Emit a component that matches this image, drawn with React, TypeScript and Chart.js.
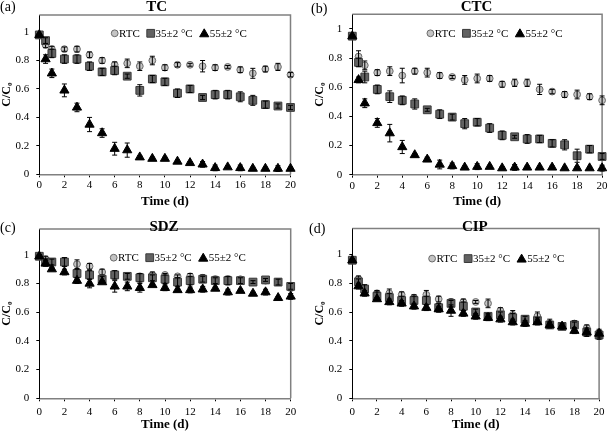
import React, { useEffect, useRef } from 'react';
import { Chart, registerables } from 'chart.js';

Chart.register(...registerables);

// ---------- DATA ----------
const days = [0, 0.5, 1, 2, 3, 4, 5, 6, 7, 8, 9, 10, 11, 12, 13, 14, 15, 16, 17, 18, 19, 20];
const seriesLabels = ['RTC', '35±2 °C', '55±2 °C'];
const panelLetters = ['(a)', '(b)', '(c)', '(d)'];
const panelTitles = ['TC', 'CTC', 'SDZ', 'CIP'];
const xAxisTitle = 'Time (d)';
const yAxisTitle = 'C/C₀';
const xTickStep = 2;
const yTickLabels = ['0', '0.2', '0.4', '0.6', '0.8', '1'];

// (a) TC
const tcRTC = [0.98, 0.91, 0.88, 0.88, 0.88, 0.84, 0.80, 0.77, 0.78, 0.76, 0.80, 0.75, 0.77, 0.77, 0.76, 0.75, 0.755, 0.735, 0.71, 0.74, 0.755, 0.70];
const tcRTCErr = [0.01, 0.02, 0.02, 0.015, 0.02, 0.02, 0.02, 0.02, 0.03, 0.03, 0.03, 0.02, 0.015, 0.01, 0.04, 0.02, 0.01, 0.02, 0.035, 0.02, 0.025, 0.015];
const tc35 = [0.98, 0.94, 0.85, 0.81, 0.81, 0.76, 0.72, 0.73, 0.69, 0.59, 0.67, 0.65, 0.57, 0.60, 0.54, 0.56, 0.56, 0.545, 0.52, 0.49, 0.48, 0.47];
const tc35Err = [0.01, 0.02, 0.03, 0.03, 0.03, 0.03, 0.025, 0.03, 0.015, 0.04, 0.025, 0.025, 0.03, 0.025, 0.015, 0.03, 0.03, 0.035, 0.035, 0.025, 0.015, 0.015];
const tc55 = [0.98, 0.81, 0.71, 0.59, 0.47, 0.35, 0.29, 0.18, 0.17, 0.12, 0.11, 0.11, 0.09, 0.08, 0.07, 0.045, 0.05, 0.045, 0.04, 0.04, 0.04, 0.04];
const tc55Err = [0.01, 0.03, 0.03, 0.045, 0.03, 0.05, 0.03, 0.045, 0.05, 0.01, 0.01, 0.01, 0.01, 0.01, 0.02, 0.02, 0.01, 0.02, 0.01, 0.01, 0.02, 0.01];

// (b) CTC
const ctcRTC = [0.95, 0.81, 0.75, 0.70, 0.71, 0.68, 0.71, 0.70, 0.68, 0.67, 0.65, 0.66, 0.66, 0.62, 0.63, 0.63, 0.585, 0.57, 0.55, 0.55, 0.535, 0.51];
const ctcRTCErr = [0.01, 0.04, 0.03, 0.02, 0.03, 0.05, 0.02, 0.03, 0.02, 0.01, 0.03, 0.03, 0.02, 0.02, 0.025, 0.025, 0.035, 0.015, 0.02, 0.03, 0.02, 0.03];
const ctc35 = [0.95, 0.77, 0.67, 0.585, 0.535, 0.51, 0.485, 0.445, 0.415, 0.395, 0.35, 0.36, 0.32, 0.27, 0.26, 0.245, 0.245, 0.215, 0.205, 0.13, 0.175, 0.125];
const ctc35Err = [0.01, 0.03, 0.04, 0.03, 0.04, 0.03, 0.035, 0.01, 0.03, 0.02, 0.035, 0.025, 0.03, 0.03, 0.01, 0.03, 0.025, 0.025, 0.035, 0.045, 0.025, 0.02];
const ctc55 = [0.95, 0.65, 0.49, 0.355, 0.285, 0.19, 0.135, 0.105, 0.07, 0.06, 0.05, 0.055, 0.055, 0.045, 0.05, 0.05, 0.05, 0.05, 0.045, 0.045, 0.045, 0.045];
const ctc55Err = [0.01, 0.02, 0.03, 0.03, 0.06, 0.045, 0.01, 0.015, 0.03, 0.02, 0.01, 0.02, 0.01, 0.01, 0.02, 0.01, 0.01, 0.01, 0.01, 0.01, 0.01, 0.02];

// (c) SDZ
const sdzRTC = [0.99, 0.97, 0.95, 0.95, 0.935, 0.92, 0.88, 0.86, 0.85, 0.85, 0.86, 0.86, 0.85, 0.85, 0.84, 0.83, 0.83, 0.83, 0.81, 0.82, 0.81, 0.77];
const sdzRTCErr = [0.01, 0.02, 0.02, 0.03, 0.03, 0.02, 0.02, 0.02, 0.02, 0.02, 0.02, 0.01, 0.01, 0.02, 0.02, 0.02, 0.02, 0.01, 0.01, 0.01, 0.02, 0.02];
const sdz35 = [0.99, 0.95, 0.95, 0.95, 0.87, 0.86, 0.83, 0.86, 0.85, 0.84, 0.84, 0.83, 0.81, 0.82, 0.83, 0.82, 0.82, 0.82, 0.81, 0.825, 0.81, 0.78];
const sdz35Err = [0.01, 0.02, 0.02, 0.03, 0.03, 0.03, 0.02, 0.03, 0.02, 0.03, 0.02, 0.03, 0.03, 0.03, 0.02, 0.02, 0.03, 0.02, 0.01, 0.01, 0.02, 0.02];
const sdz55 = [0.99, 0.94, 0.90, 0.88, 0.82, 0.80, 0.81, 0.78, 0.78, 0.77, 0.79, 0.77, 0.755, 0.755, 0.76, 0.765, 0.74, 0.75, 0.73, 0.74, 0.70, 0.71];
const sdz55Err = [0.01, 0.02, 0.01, 0.02, 0.02, 0.03, 0.01, 0.04, 0.03, 0.03, 0.01, 0.02, 0.01, 0.02, 0.02, 0.01, 0.02, 0.01, 0.01, 0.02, 0.01, 0.02];

// (d) CIP
const cipRTC = [0.96, 0.83, 0.76, 0.73, 0.73, 0.72, 0.70, 0.72, 0.69, 0.67, 0.67, 0.67, 0.66, 0.61, 0.58, 0.55, 0.57, 0.52, 0.50, 0.52, 0.49, 0.45];
const cipRTCErr = [0.01, 0.02, 0.02, 0.02, 0.03, 0.02, 0.02, 0.03, 0.02, 0.02, 0.02, 0.01, 0.03, 0.02, 0.03, 0.02, 0.03, 0.03, 0.01, 0.02, 0.02, 0.02];
const cip35 = [0.96, 0.81, 0.76, 0.71, 0.70, 0.68, 0.68, 0.68, 0.63, 0.66, 0.64, 0.60, 0.57, 0.58, 0.56, 0.55, 0.54, 0.51, 0.50, 0.51, 0.46, 0.44];
const cip35Err = [0.01, 0.02, 0.03, 0.03, 0.03, 0.03, 0.03, 0.03, 0.03, 0.02, 0.03, 0.02, 0.02, 0.02, 0.03, 0.02, 0.02, 0.02, 0.02, 0.02, 0.03, 0.03];
const cip55 = [0.96, 0.78, 0.73, 0.69, 0.67, 0.66, 0.64, 0.63, 0.62, 0.61, 0.59, 0.57, 0.56, 0.55, 0.53, 0.52, 0.53, 0.51, 0.50, 0.47, 0.46, 0.45];
const cip55Err = [0.01, 0.02, 0.02, 0.01, 0.02, 0.02, 0.02, 0.02, 0.02, 0.04, 0.02, 0.02, 0.02, 0.02, 0.02, 0.02, 0.02, 0.02, 0.01, 0.02, 0.02, 0.03];

const panelSeries = [
  [[tcRTC, tcRTCErr], [tc35, tc35Err], [tc55, tc55Err]],
  [[ctcRTC, ctcRTCErr], [ctc35, ctc35Err], [ctc55, ctc55Err]],
  [[sdzRTC, sdzRTCErr], [sdz35, sdz35Err], [sdz55, sdz55Err]],
  [[cipRTC, cipRTCErr], [cip35, cip35Err], [cip55, cip55Err]],
];

// ---------- STYLE / LAYOUT ----------
const SERIF = '"Liberation Serif", "Times New Roman", Times, serif';

const seriesStyles = [
  { shape: 'circle', radius: 3.4, fill: '#c4c4c4', stroke: '#6a6a6a', order: 2 },
  { shape: 'rect', radius: 5.5, fill: '#626262', stroke: '#3a3a3a', order: 1 },
  { shape: 'triangle', radius: 5.3, fill: '#000000', stroke: '#000000', order: 0 },
];

const panelLayouts = [
  { left: 0, top: 0, width: 304, height: 215, area: { l: 39.3, r: 290.5, t: 15, b: 174.3 }, yMax: 1.12,
    xTickPad: 1.4, xTitlePad: 5.2, yTitlePad: 0.1, label: { x: 0, y: 7.5 }, title: { x: 156.7, y: 7 }, legend: { dx: 72, dy: 18.3 } },
  { left: 304, top: 0, width: 305, height: 215, area: { l: 352.3, r: 603.3, t: 14.3, b: 174.7 }, yMax: 1.1,
    xTickPad: 1.4, xTitlePad: 5.2, yTitlePad: 9, label: { x: 7, y: 9 }, title: { x: 172.5, y: 7 }, legend: { dx: 74.7, dy: 19 } },
  { left: 0, top: 215, width: 304, height: 220, area: { l: 39.3, r: 290.7, t: 229, b: 398.3 }, yMax: 1.18,
    xTickPad: 4.4, xTitlePad: 2.2, yTitlePad: 0.1, label: { x: 0, y: 13 }, title: { x: 164, y: 12.2 }, legend: { dx: 71, dy: 28.7 } },
  { left: 304, top: 215, width: 305, height: 220, area: { l: 352.3, r: 604, t: 228.3, b: 398.3 }, yMax: 1.18,
    xTickPad: 4.4, xTitlePad: 2.2, yTitlePad: 8.3, label: { x: 5, y: 14 }, title: { x: 170.8, y: 12.5 }, legend: { dx: 76.4, dy: 30 } },
];

function drawMarker(ctx: CanvasRenderingContext2D, shape: string, x: number, y: number, r: number, fill: string, stroke: string) {
  ctx.save();
  ctx.beginPath();
  if (shape === 'circle') {
    ctx.arc(x, y, r, 0, Math.PI * 2);
  } else if (shape === 'rect') {
    const s = r * Math.SQRT2;
    ctx.rect(x - s / 2, y - s / 2, s, s);
  } else {
    const w = r * Math.sin((2 * Math.PI) / 3);
    ctx.moveTo(x, y - r);
    ctx.lineTo(x + w, y + r / 2);
    ctx.lineTo(x - w, y + r / 2);
    ctx.closePath();
  }
  ctx.fillStyle = fill;
  ctx.strokeStyle = stroke;
  ctx.lineWidth = 1;
  ctx.fill();
  ctx.stroke();
  ctx.restore();
}

const frameAndBarsPlugin = {
  id: 'frameAndBars',
  beforeDatasetsDraw(chart: any) {
    const { ctx, chartArea } = chart;
    ctx.save();
    ctx.strokeStyle = '#808080';
    ctx.lineWidth = 1.5;
    ctx.beginPath();
    ctx.moveTo(chartArea.left, chartArea.top);
    ctx.lineTo(chartArea.right, chartArea.top);
    ctx.lineTo(chartArea.right, chartArea.bottom);
    ctx.stroke();
    ctx.restore();
  },
  afterDatasetDraw(chart: any, args: any) {
    const ds = chart.data.datasets[args.index];
    const errs: number[] = ds.errors || [];
    const yScale = chart.scales.y;
    const xScale = chart.scales.x;
    const ctx = chart.ctx;
    ctx.save();
    ctx.strokeStyle = '#000';
    ctx.lineWidth = 1;
    ds.data.forEach((p: any, i: number) => {
      const e = errs[i] || 0;
      if (!e) return;
      const px = xScale.getPixelForValue(p.x);
      const y1 = yScale.getPixelForValue(p.y + e);
      const y2 = yScale.getPixelForValue(p.y - e);
      ctx.beginPath();
      ctx.moveTo(px, y1);
      ctx.lineTo(px, y2);
      ctx.moveTo(px - 2.5, y1);
      ctx.lineTo(px + 2.5, y1);
      ctx.moveTo(px - 2.5, y2);
      ctx.lineTo(px + 2.5, y2);
      ctx.stroke();
    });
    ctx.restore();
  },
};

const textPlugin = {
  id: 'panelText',
  afterDraw(chart: any, _args: any, opts: any) {
    const { ctx, chartArea } = chart;
    ctx.save();
    ctx.fillStyle = '#000';
    ctx.textBaseline = 'middle';
    ctx.font = `14px ${SERIF}`;
    ctx.textAlign = 'left';
    ctx.fillText(opts.letter, opts.label.x, opts.label.y);
    ctx.font = `bold 15px ${SERIF}`;
    ctx.textAlign = 'center';
    ctx.fillText(opts.title, opts.titlePos.x, opts.titlePos.y);
    ctx.font = `11px ${SERIF}`;
    ctx.textAlign = 'left';
    let x = chartArea.left + opts.legend.dx;
    const y = chartArea.top + opts.legend.dy;
    chart.data.datasets.forEach((ds: any, i: number) => {
      const st = seriesStyles[i];
      const mw = st.shape === 'circle' ? st.radius * 2 : st.shape === 'rect' ? st.radius * Math.SQRT2 : 2 * st.radius * Math.sin((2 * Math.PI) / 3);
      const cy = st.shape === 'triangle' ? y + st.radius / 4 - 0.5 : y;
      drawMarker(ctx, st.shape, x + mw / 2, cy, st.radius, st.fill, st.stroke);
      ctx.fillStyle = '#000';
      ctx.fillText(ds.label, x + mw + 1, y + 0.5);
      x += mw + 1 + ctx.measureText(ds.label).width + 7;
    });
    ctx.restore();
  },
};

function Panel({ index }: { index: number }) {
  const ref = useRef<HTMLCanvasElement>(null);
  const L = panelLayouts[index];
  useEffect(() => {
    if (!ref.current) return;
    const padTop = L.area.t - L.top;
    const yAxisWidth = L.area.l - L.left;
    const padRight = L.left + L.width - L.area.r;
    const xAxisHeight = L.top + L.height - L.area.b;
    const datasets = panelSeries[index].map(([vals, errs], s) => ({
      label: seriesLabels[s],
      data: days.map((d, i) => ({ x: d, y: vals[i] })),
      errors: errs,
      showLine: false,
      clip: false,
      order: seriesStyles[s].order,
      pointStyle: seriesStyles[s].shape,
      pointRadius: seriesStyles[s].radius,
      pointHoverRadius: seriesStyles[s].radius,
      pointBackgroundColor: seriesStyles[s].fill,
      pointBorderColor: seriesStyles[s].stroke,
      pointBorderWidth: 1,
      backgroundColor: seriesStyles[s].fill,
      borderColor: seriesStyles[s].stroke,
    }));
    const tickFont = { family: SERIF, size: 11 };
    const chart = new Chart(ref.current, {
      type: 'scatter',
      data: { datasets: datasets as any },
      plugins: [frameAndBarsPlugin, textPlugin],
      options: {
        responsive: false,
        maintainAspectRatio: false,
        animation: false,
        events: [],
        layout: { padding: { top: padTop, right: padRight, left: 0, bottom: 0 } },
        plugins: {
          legend: { display: false },
          tooltip: { enabled: false },
          panelText: {
            letter: panelLetters[index],
            title: panelTitles[index],
            label: L.label,
            titlePos: L.title,
            legend: L.legend,
          },
        } as any,
        scales: {
          x: {
            type: 'linear',
            min: 0,
            max: 20,
            afterFit: (s: any) => { s.height = xAxisHeight; },
            ticks: {
              stepSize: xTickStep,
              color: '#000',
              font: tickFont,
              padding: L.xTickPad,
              maxRotation: 0,
              autoSkip: false,
              callback: (v: any) => String(v),
            },
            grid: { drawOnChartArea: false, drawTicks: true, tickLength: 3, tickColor: '#000', tickWidth: 1 },
            border: { display: true, color: '#808080', width: 1.5 },
            title: {
              display: true,
              text: xAxisTitle,
              color: '#000',
              font: { family: SERIF, size: 13, weight: 'bold' },
              padding: { top: 0, bottom: L.xTitlePad },
            },
          },
          y: {
            type: 'linear',
            min: 0,
            max: L.yMax,
            afterBuildTicks: (s: any) => { s.ticks = s.ticks.filter((t: any) => t.value <= 1.0001); },
            afterFit: (s: any) => { s.width = yAxisWidth; },
            ticks: {
              stepSize: 0.2,
              color: '#000',
              font: tickFont,
              padding: 7,
              callback: (v: any) => yTickLabels[Math.round(Number(v) / 0.2)] ?? '',
            },
            grid: { drawOnChartArea: false, drawTicks: true, tickLength: 3, tickColor: '#000', tickWidth: 1 },
            border: { display: true, color: '#000', width: 1 },
            title: {
              display: true,
              text: yAxisTitle,
              color: '#000',
              font: { family: SERIF, size: 12, weight: 'bold' },
              padding: { top: L.yTitlePad, bottom: 0 },
            },
          },
        },
      } as any,
    });
    return () => chart.destroy();
  }, []);
  return (
    <canvas
      ref={ref}
      width={L.width}
      height={L.height}
      style={{ position: 'absolute', left: L.left, top: L.top, width: L.width, height: L.height }}
    />
  );
}

export default function App() {
  return (
    <div style={{ position: 'absolute', left: 0, top: 0, width: 609, height: 435, background: '#fff', overflow: 'hidden' }}>
      {[0, 1, 2, 3].map((i) => (
        <Panel key={i} index={i} />
      ))}
    </div>
  );
}
